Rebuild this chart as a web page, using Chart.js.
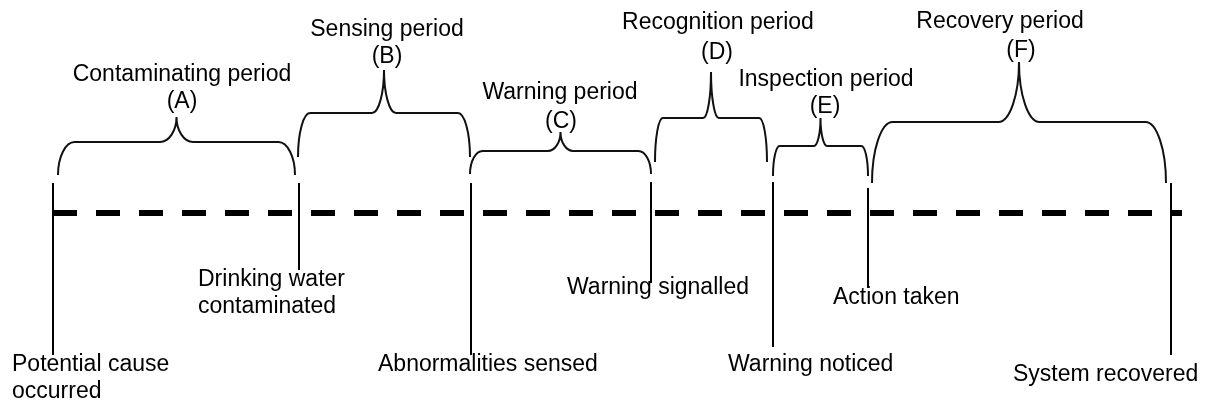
<!DOCTYPE html>
<html>
<head>
<meta charset="utf-8">
<title>Contamination event timeline</title>
<script src="https://cdn.jsdelivr.net/npm/chart.js@4.4.1/dist/chart.umd.min.js"></script>
<style>
  html, body { margin: 0; padding: 0; background: #fff; }
  #wrap { width: 1205px; height: 403px; }
</style>
</head>
<body>
<div id="wrap"><canvas id="timeline"></canvas></div>
<script>
// events along the time axis
const eventNames = [
    ['Potential cause', 'occurred'],
    ['Drinking water', 'contaminated'],
    ['Abnormalities sensed'],
    ['Warning signalled'],
    ['Warning noticed'],
    ['Action taken'],
    ['System recovered']
];
const eventTimes = [53, 299, 471, 651, 773, 868, 1171];
const axisEnd = 1182;

// periods between two consecutive events
const periodNames = ['Contaminating period', 'Sensing period', 'Warning period',
                     'Recognition period', 'Inspection period', 'Recovery period'];
const periodLetters = ['A', 'B', 'C', 'D', 'E', 'F'];

// layout (y runs downward)
const axisY = 213;
const tickTop = [183, 183, 183, 182, 182, 188, 183];
const tickBottom = [355, 270, 355, 283, 347, 288, 355];
const eventLabelX = [12, 198, 378, 567, 728, 833, 1013];
const eventLabelY = [365, 280, 365, 288, 365, 298, 375];
const braceInset = [[5, -4], [-1, -1], [-1, 0], [4, -6], [0, 0], [4, -5]];
const braceEndY = [175, 157, 174, 162, 176, 183];
const braceFlatY = [142, 113, 151, 118, 146, 122];
const braceTipY = [117, 70, 132, 72, 118, 62];
const periodLabelX = [182, 387, 560, 718, 826, 1000];
const periodLabelY = [75, 30, 93, 23, 80, 22];
const letterX = [182, 387, 561, 717, 825, 1021];
const letterY = [102, 57, 122, 53, 107, 51];

const FONT = '23px "Liberation Sans", Arial, sans-serif';

const datasets = [{
    label: 'Timeline',
    data: [{ x: eventTimes[0], y: axisY }, { x: axisEnd, y: axisY }],
    borderColor: '#000',
    borderWidth: 6,
    borderDash: [24, 19],
    pointRadius: 0
}];
eventTimes.forEach(function(t, i) {
    datasets.push({
        label: eventNames[i].join(' '),
        data: [{ x: t, y: tickTop[i] }, { x: t, y: tickBottom[i] }],
        borderColor: '#000',
        borderWidth: 2,
        pointRadius: 0
    });
});

// curly braces over each period
const bracePlugin = {
    id: 'braces',
    afterDatasetsDraw(chart) {
        const ctx = chart.ctx;
        const xs = chart.scales.x, ys = chart.scales.y;
        ctx.save();
        ctx.strokeStyle = '#111';
        ctx.lineWidth = 2;
        periodNames.forEach(function(name, i) {
            const x0 = xs.getPixelForValue(eventTimes[i] + braceInset[i][0]);
            const x1 = xs.getPixelForValue(eventTimes[i + 1] + braceInset[i][1]);
            const yEnd = ys.getPixelForValue(braceEndY[i]);
            const yFlat = ys.getPixelForValue(braceFlatY[i]);
            const yTip = ys.getPixelForValue(braceTipY[i]);
            const xm = (x0 + x1) / 2;
            const r = (x1 - x0) * 0.07;
            const h = yEnd - yFlat;
            const t = yFlat - yTip;
            const k = 0.55;
            ctx.beginPath();
            ctx.moveTo(x0, yEnd);
            ctx.bezierCurveTo(x0, yEnd - k * h, x0 + r - k * r, yFlat, x0 + r, yFlat);
            ctx.lineTo(xm - r, yFlat);
            ctx.bezierCurveTo(xm - r + k * r, yFlat, xm, yTip + k * t, xm, yTip);
            ctx.bezierCurveTo(xm, yTip + k * t, xm + r - k * r, yFlat, xm + r, yFlat);
            ctx.lineTo(x1 - r, yFlat);
            ctx.bezierCurveTo(x1 - r + k * r, yFlat, x1, yEnd - k * h, x1, yEnd);
            ctx.stroke();
        });
        ctx.restore();
    }
};

// event and period captions
const labelPlugin = {
    id: 'captions',
    afterDraw(chart) {
        const ctx = chart.ctx;
        const xs = chart.scales.x, ys = chart.scales.y;
        ctx.save();
        ctx.font = FONT;
        ctx.fillStyle = '#000';
        ctx.textBaseline = 'middle';
        ctx.textAlign = 'left';
        eventNames.forEach(function(lines, i) {
            lines.forEach(function(line, j) {
                ctx.fillText(line, xs.getPixelForValue(eventLabelX[i]),
                             ys.getPixelForValue(eventLabelY[i] + j * 27));
            });
        });
        ctx.textAlign = 'center';
        periodNames.forEach(function(name, i) {
            ctx.fillText(name, xs.getPixelForValue(periodLabelX[i]), ys.getPixelForValue(periodLabelY[i]));
            ctx.fillText('(' + periodLetters[i] + ')', xs.getPixelForValue(letterX[i]), ys.getPixelForValue(letterY[i]));
        });
        ctx.restore();
    }
};

new Chart(document.getElementById('timeline').getContext('2d'), {
    type: 'line',
    data: { datasets: datasets },
    options: {
        responsive: true,
        maintainAspectRatio: false,
        animation: false,
        layout: { padding: 0 },
        scales: {
            x: { type: 'linear', min: 0, max: 1205, display: false },
            y: { type: 'linear', min: 0, max: 403, reverse: true, display: false }
        },
        plugins: {
            legend: { display: false },
            tooltip: { enabled: false }
        }
    },
    plugins: [bracePlugin, labelPlugin]
});
</script>
</body>
</html>
